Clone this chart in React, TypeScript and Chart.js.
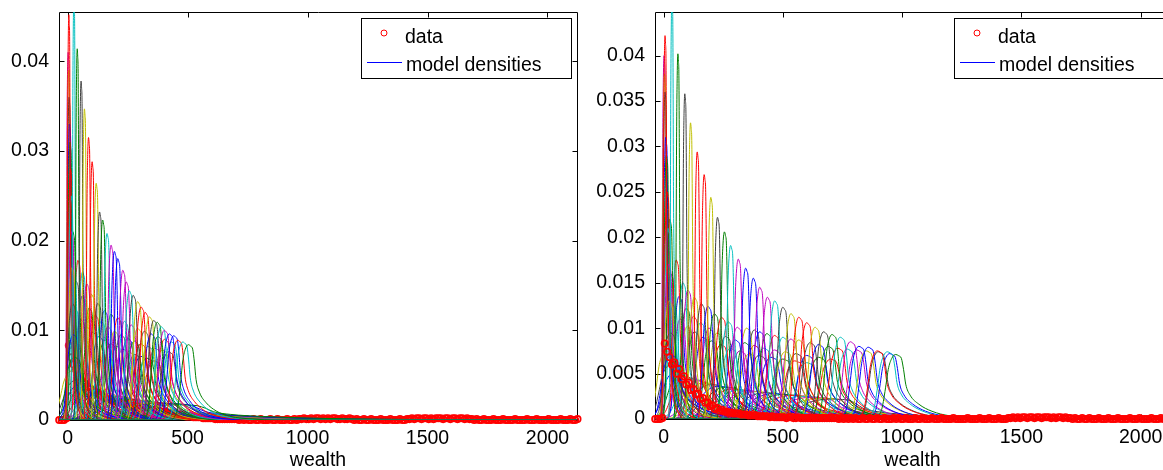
import React, { useEffect, useRef } from "react";
import { Chart, registerables } from "chart.js";

Chart.register(...registerables);
Chart.defaults.font.family = '"Liberation Sans", Arial, sans-serif';

// ---------- axes ----------
const X_MIN = -36;
const X_MAX = 2123;
const X_TICKS = [0, 500, 1000, 1500, 2000];
const Y_MAX_LEFT = 0.0455;
const Y_MAX_RIGHT = 0.0448;
const Y_TICKS_LEFT = [0, 0.01, 0.02, 0.03, 0.04];
const Y_TICKS_RIGHT = [0, 0.005, 0.01, 0.015, 0.02, 0.025, 0.03, 0.035, 0.04];
const AXIS_TITLE = "wealth";
const LEGEND_LABELS = ["data", "model densities"];

// ---------- shape of one model density, offsets in widths ----------
const PROFILE_T = [-2.6, -2.1, -1.6, -1.35, -1.1, -0.85, -0.45, 0, 0.35, 0.65, 0.9, 1.15, 1.65, 2.65, 4.15, 6.15, 9.6, 13];
const PROFILE_V = [0, 0.035, 0.15, 0.32, 0.54, 0.77, 0.94, 1, 0.98, 0.94, 0.77, 0.54, 0.37, 0.23, 0.12, 0.05, 0.013, 0];
const WIDTH_K_LEFT = 0.235;
const WIDTH_K_RIGHT = 0.26;

// ---------- left panel: peak positions and heights ----------
const L_A_X = [5, 26, 40, 56, 70, 87, 102, 119, 133, 146, 164, 181, 195, 209, 230, 244, 257, 273, 292, 306, 323, 341, 359, 373, 390, 403, 424, 442, 459, 480, 503];
const L_A_H = [0.0452, 0.047, 0.0414, 0.0378, 0.0347, 0.0315, 0.0288, 0.0264, 0.0232, 0.0223, 0.0208, 0.0195, 0.0188, 0.018, 0.0167, 0.0154, 0.0144, 0.0139, 0.0132, 0.0126, 0.012, 0.0115, 0.0111, 0.0109, 0.0104, 0.01, 0.0096, 0.0094, 0.0089, 0.0087, 0.0084];
const L_Z_X = [2, 4, 6, 8, 10, 12, 14, 16, 18, 20, 24, 28];
const L_Z_H = [0.041, 0.039, 0.036, 0.033, 0.031, 0.028, 0.025, 0.021, 0.017, 0.013, 0.0095, 0.007];
const L_B_X = [22, 43, 62, 80, 100, 126, 153, 181, 209, 237, 265, 292, 320, 348, 376, 404, 432];
const L_B_H = [0.021, 0.0178, 0.0165, 0.0152, 0.014, 0.013, 0.0122, 0.0118, 0.0114, 0.011, 0.0106, 0.0102, 0.0099, 0.0096, 0.0093, 0.009, 0.0087];
const L_E_X = [35, 60, 90, 115, 140, 168, 195, 222, 250, 278, 305, 335, 365, 395, 420];
const L_E_H = [0.0155, 0.0138, 0.0125, 0.0117, 0.011, 0.0104, 0.0099, 0.0095, 0.0091, 0.0088, 0.0085, 0.0082, 0.008, 0.0078, 0.0076];
const L_C_X = [30, 55, 80, 105, 130, 155, 180, 205, 230, 255, 280, 305, 330, 360];
const L_C_H = [0.0125, 0.0112, 0.0104, 0.0098, 0.0093, 0.0089, 0.0085, 0.0082, 0.0079, 0.0076, 0.0073, 0.0071, 0.0069, 0.0066];
const L_D_X = [20, 40, 60, 77, 100, 120, 145, 170, 195, 220, 245, 270, 300, 330, 360, 390, 420, 450];
const L_D_H = [0.0055, 0.0045, 0.0041, 0.0038, 0.0035, 0.0033, 0.003, 0.0028, 0.0026, 0.0024, 0.0023, 0.0022, 0.0021, 0.002, 0.0019, 0.0019, 0.0018, 0.0017];

// ---------- right panel: peak positions and heights ----------
const R_A_X = [6, 35, 60, 89, 113, 141, 170, 198, 226, 255, 281, 313, 344, 376, 403, 435, 466, 500, 534, 567, 600, 635, 671, 706, 741, 783, 819, 858, 896, 938, 973];
const R_A_H = [0.0422, 0.0465, 0.0402, 0.0358, 0.0326, 0.0294, 0.0269, 0.0244, 0.0222, 0.0206, 0.0191, 0.0176, 0.0166, 0.0155, 0.0145, 0.0134, 0.013, 0.0123, 0.0116, 0.0112, 0.0106, 0.0101, 0.0096, 0.0093, 0.009, 0.0085, 0.008, 0.0079, 0.0075, 0.0074, 0.0071];
const R_Z_X = [2, 4, 6, 9, 12, 15, 18, 21, 24, 28, 32];
const R_Z_H = [0.04, 0.038, 0.036, 0.031, 0.029, 0.025, 0.021, 0.017, 0.013, 0.0095, 0.007];
const R_B_X = [26, 53, 81, 102, 129, 158, 186, 213, 243, 271, 309, 348, 380, 403, 433, 465, 500, 533, 566, 614, 650, 690, 730, 770, 810, 850, 900, 948];
const R_B_H = [0.022, 0.0175, 0.015, 0.0142, 0.0134, 0.0127, 0.0124, 0.0116, 0.0112, 0.0107, 0.0101, 0.01, 0.0098, 0.0096, 0.0094, 0.0092, 0.009, 0.0088, 0.0087, 0.0084, 0.0082, 0.008, 0.0078, 0.0077, 0.0076, 0.0075, 0.0074, 0.0072];
const R_E_X = [30, 65, 95, 125, 155, 190, 225, 260, 300, 340, 380, 420, 465, 510, 555, 600, 650, 700];
const R_E_H = [0.016, 0.0135, 0.0122, 0.0113, 0.0106, 0.01, 0.0095, 0.0091, 0.0087, 0.0084, 0.0081, 0.0078, 0.0076, 0.0074, 0.0072, 0.007, 0.0068, 0.0066];
const R_C_X = [40, 70, 100, 130, 165, 200, 240, 280, 320, 360, 400, 450, 500, 550, 600];
const R_C_H = [0.0125, 0.011, 0.0102, 0.0096, 0.009, 0.0086, 0.0082, 0.0078, 0.0075, 0.0072, 0.007, 0.0068, 0.0066, 0.0064, 0.0062];
const R_D_X = [10, 30, 50, 75, 95, 120, 145, 170, 200, 230, 260, 290, 320, 355, 390, 425, 460, 500, 540, 580, 620, 660, 700];
const R_D_H = [0.0075, 0.006, 0.0052, 0.0048, 0.0046, 0.0044, 0.0042, 0.004, 0.0038, 0.0036, 0.0035, 0.0033, 0.0032, 0.0031, 0.003, 0.0029, 0.0028, 0.0027, 0.0026, 0.0025, 0.0024, 0.0023, 0.0022];

// ---------- colours ----------
const MATLAB: Record<string, string> = {
  b: "#0000ff", g: "#008000", r: "#ff0000", c: "#00bfbf", m: "#bf00bf", y: "#bfbf00", k: "#404040",
};
const COLORS_A = ["r", "c", "g", "k", "y", "r", "r", "y", "k", "g", "c", "m", "b", "b", "m", "m", "c", "k", "y", "r", "r", "y", "k", "g", "c", "m", "b", "b", "r", "c", "g"];
const COLOR_CYCLE = ["b", "g", "r", "c", "m", "y", "k"];

// ---------- empirical data (red circles), wealth bins ----------
const DATA_X = [
  -35, -25, -15, -5, 5, 15, 25, 35, 45, 55,
  65, 75, 85, 95, 105, 115, 125, 135, 145, 155,
  165, 175, 185, 195, 205, 215, 225, 235, 245, 255,
  265, 275, 285, 295, 305, 315, 325, 335, 345, 355,
  365, 375, 385, 395, 405, 415, 425, 435, 445, 455,
  465, 475, 485, 495, 505, 515, 525, 535, 545, 555,
  565, 575, 585, 595, 605, 615, 625, 635, 645, 655,
  665, 675, 685, 695, 705, 715, 725, 735, 745, 755,
  765, 775, 785, 795, 805, 815, 825, 835, 845, 855,
  865, 875, 885, 895, 905, 915, 925, 935, 945, 955,
  965, 975, 985, 995, 1005, 1015, 1025, 1035, 1045, 1055,
  1065, 1075, 1085, 1095, 1105, 1115, 1125, 1135, 1145, 1155,
  1165, 1175, 1185, 1195, 1205, 1215, 1225, 1235, 1245, 1255,
  1265, 1275, 1285, 1295, 1305, 1315, 1325, 1335, 1345, 1355,
  1365, 1375, 1385, 1395, 1405, 1415, 1425, 1435, 1445, 1455,
  1465, 1475, 1485, 1495, 1505, 1515, 1525, 1535, 1545, 1555,
  1565, 1575, 1585, 1595, 1605, 1615, 1625, 1635, 1645, 1655,
  1665, 1675, 1685, 1695, 1705, 1715, 1725, 1735, 1745, 1755,
  1765, 1775, 1785, 1795, 1805, 1815, 1825, 1835, 1845, 1855,
  1865, 1875, 1885, 1895, 1905, 1915, 1925, 1935, 1945, 1955,
  1965, 1975, 1985, 1995, 2005, 2015, 2025, 2035, 2045, 2055,
  2065, 2075, 2085, 2095, 2105, 2115, 2125,
];
const DATA_Y_LEFT = [
  0, 0, 0, 0.0002, 0.0083, 0.007, 0.0062, 0.0056, 0.005, 0.0046,
  0.0042, 0.004, 0.0037, 0.0035, 0.0033, 0.0031, 0.0029, 0.0028, 0.0027, 0.0025,
  0.0024, 0.0023, 0.0022, 0.0021, 0.002, 0.002, 0.0019, 0.0018, 0.0018, 0.0017,
  0.0016, 0.0016, 0.0015, 0.0015, 0.0014, 0.0014, 0.0013, 0.0013, 0.0012, 0.0011,
  0.0011, 0.001, 0.001, 0.0009, 0.0009, 0.0008, 0.0008, 0.0007, 0.0007, 0.0006,
  0.0006, 0.0005, 0.0005, 0.0004, 0.0004, 0.0004, 0.0003, 0.0003, 0.0003, 0.0003,
  0.0002, 0.0002, 0.0002, 0.0002, 0.0002, 0.0001, 0.0001, 0.0001, 0.0001, 0.0001,
  0.0001, 0.0001, 0.0001, 0.0001, 0.0001, 0, 0.0001, 0, 0.0001, 0,
  0, 0.0001, 0, 0, 0.0001, 0, 0, 0, 0.0001, 0,
  0, 0.0001, 0, 0, 0, 0.0001, 0, 0, 0.0001, 0,
  0.0001, 0.0001, 0.0002, 0.0001, 0.0001, 0.0002, 0.0001, 0.0002, 0.0002, 0.0001,
  0.0002, 0.0001, 0.0002, 0.0001, 0.0002, 0.0002, 0.0001, 0.0001, 0.0002, 0.0001,
  0.0001, 0.0002, 0.0001, 0, 0.0001, 0, 0, 0.0001, 0, 0,
  0.0001, 0, 0, 0, 0.0001, 0, 0, 0, 0.0001, 0,
  0, 0, 0.0001, 0, 0, 0.0001, 0.0001, 0.0002, 0.0001, 0.0002,
  0.0002, 0.0001, 0.0002, 0.0002, 0.0001, 0.0002, 0.0001, 0.0002, 0.0002, 0.0002,
  0.0001, 0.0002, 0.0002, 0.0001, 0.0002, 0.0002, 0.0001, 0.0002, 0.0002, 0.0001,
  0.0002, 0.0001, 0.0001, 0, 0.0001, 0, 0, 0.0001, 0, 0,
  0, 0.0001, 0, 0, 0, 0.0001, 0, 0, 0, 0,
  0.0001, 0, 0, 0, 0, 0.0001, 0, 0, 0, 0.0001,
  0, 0, 0, 0, 0.0001, 0, 0, 0, 0, 0.0001,
  0, 0, 0, 0.0001, 0, 0, 0.0001,
];
const DATA_Y_RIGHT = [
  0, 0, 0, 0.0001, 0.0083, 0.0074, 0.0068, 0.006, 0.0062, 0.005,
  0.0055, 0.0044, 0.0047, 0.0038, 0.004, 0.0032, 0.0033, 0.0027, 0.0028, 0.0022,
  0.0023, 0.0018, 0.0018, 0.0014, 0.0015, 0.0011, 0.0012, 0.0009, 0.001, 0.0008,
  0.0008, 0.0007, 0.0007, 0.0006, 0.0006, 0.0006, 0.0005, 0.0005, 0.0005, 0.0004,
  0.0004, 0.0004, 0.0004, 0.0003, 0.0003, 0.0003, 0.0003, 0.0003, 0.0002, 0.0003,
  0.0002, 0.0002, 0.0002, 0.0002, 0.0002, 0.0001, 0.0002, 0.0002, 0.0001, 0.0001,
  0.0002, 0.0001, 0.0001, 0.0001, 0.0001, 0.0001, 0.0001, 0.0001, 0.0001, 0.0001,
  0.0001, 0.0001, 0.0001, 0.0001, 0.0001, 0.0001, 0.0001, 0, 0.0001, 0,
  0.0001, 0, 0.0001, 0, 0.0001, 0, 0, 0.0001, 0, 0,
  0.0001, 0, 0, 0.0001, 0, 0, 0.0001, 0, 0, 0,
  0.0001, 0, 0.0001, 0, 0, 0.0001, 0, 0, 0, 0.0001,
  0, 0, 0.0001, 0, 0, 0, 0.0001, 0, 0, 0,
  0.0001, 0, 0, 0, 0, 0.0001, 0, 0, 0, 0,
  0, 0.0001, 0, 0, 0, 0, 0.0001, 0, 0, 0,
  0.0001, 0, 0, 0, 0.0001, 0, 0, 0, 0.0001, 0.0001,
  0.0002, 0.0001, 0.0002, 0.0001, 0.0002, 0.0002, 0.0001, 0.0002, 0.0002, 0.0001,
  0.0002, 0.0002, 0.0001, 0.0002, 0.0002, 0.0002, 0.0001, 0.0002, 0.0001, 0.0002,
  0.0002, 0.0001, 0.0002, 0.0001, 0.0001, 0, 0.0001, 0, 0, 0.0001,
  0, 0, 0.0001, 0, 0, 0, 0.0001, 0, 0, 0,
  0.0001, 0, 0, 0, 0.0001, 0, 0, 0, 0, 0.0001,
  0, 0, 0, 0.0001, 0, 0, 0, 0, 0.0001, 0,
  0, 0, 0.0001, 0, 0, 0, 0.0001,
];

// ---------- building ----------
type Family = { xs: number[]; hs: number[]; colors?: string[]; offset: number };

function curvePoints(px: number, ph: number, k: number) {
  const w = k / ph;
  const pts: { x: number; y: number }[] = [];
  if (px + PROFILE_T[0] * w > X_MIN) pts.push({ x: X_MIN, y: 0 });
  for (let j = 0; j < PROFILE_T.length; j++) {
    pts.push({ x: px + PROFILE_T[j] * w, y: ph * PROFILE_V[j] });
  }
  pts.push({ x: X_MAX, y: 0 });
  return pts;
}

function buildDatasets(families: Family[], k: number, dataY: number[], dataOnTop: boolean) {
  const ds: any[] = [];
  let idx = 0;
  families.forEach((f) => {
    f.xs.forEach((px, i) => {
      const letter = f.colors ? f.colors[i % f.colors.length] : COLOR_CYCLE[(i + f.offset) % COLOR_CYCLE.length];
      ds.push({
        data: curvePoints(px, f.hs[i], k),
        showLine: true,
        borderColor: MATLAB[letter],
        borderWidth: 1,
        pointRadius: 0,
        cubicInterpolationMode: "monotone",
        order: -idx,
      });
      idx++;
    });
  });
  const n = Math.min(DATA_X.length, dataY.length);
  const pts = [];
  for (let i = 0; i < n; i++) pts.push({ x: DATA_X[i], y: dataY[i] });
  ds.push({
    data: pts,
    showLine: false,
    pointRadius: 3.2,
    pointBorderWidth: 1.7,
    pointBorderColor: "#ff0000",
    pointBackgroundColor: "rgba(0,0,0,0)",
    clip: false,
    order: dataOnTop ? -100000 : 1,
  });
  return ds;
}

const framePlugin = {
  id: "matlabFrame",
  beforeDatasetsDraw(chart: any) {
    const { ctx, chartArea: a, scales } = chart;
    const L = Math.round(a.left) + 0.5;
    const R = Math.round(a.right) + 0.5;
    const T = Math.round(a.top) + 0.5;
    const B = Math.round(a.bottom) + 0.5;
    ctx.save();
    ctx.strokeStyle = "#000";
    ctx.lineWidth = 1;
    ctx.beginPath();
    ctx.rect(L, T, R - L, B - T);
    const len = 5;
    scales.x.ticks.forEach((t: any) => {
      const p = Math.round(scales.x.getPixelForValue(t.value)) + 0.5;
      ctx.moveTo(p, B); ctx.lineTo(p, B - len);
      ctx.moveTo(p, T); ctx.lineTo(p, T + len);
    });
    scales.y.ticks.forEach((t: any) => {
      const p = Math.round(scales.y.getPixelForValue(t.value)) + 0.5;
      ctx.moveTo(L, p); ctx.lineTo(L + len, p);
      ctx.moveTo(R, p); ctx.lineTo(R - len, p);
    });
    ctx.stroke();
    ctx.restore();
  },
};

const legendPlugin = {
  id: "matlabLegend",
  afterDraw(chart: any) {
    const { ctx, chartArea: a } = chart;
    const w = 210, h = 60;
    const x = Math.round(a.right - 6 - w);
    const y = Math.round(a.top + 6);
    ctx.save();
    ctx.fillStyle = "#fff";
    ctx.fillRect(x, y, w, h);
    ctx.strokeStyle = "#000";
    ctx.lineWidth = 1;
    ctx.strokeRect(x + 0.5, y + 0.5, w, h);
    ctx.beginPath();
    ctx.arc(x + 23, y + 15, 3, 0, Math.PI * 2);
    ctx.strokeStyle = "#ff0000";
    ctx.stroke();
    ctx.beginPath();
    ctx.moveTo(x + 6, y + 44.5);
    ctx.lineTo(x + 41, y + 44.5);
    ctx.strokeStyle = "#0000ff";
    ctx.stroke();
    ctx.fillStyle = "#000";
    ctx.font = '19.5px "Liberation Sans", Arial, sans-serif';
    ctx.textBaseline = "alphabetic";
    ctx.fillText(LEGEND_LABELS[0], x + 44, y + 24.5);
    ctx.fillText(LEGEND_LABELS[1], x + 45, y + 53);
    ctx.restore();
  },
};

type PanelCfg = {
  left: number;
  yMax: number;
  yTicks: number[];
  yAxisW: number;
  xAxisH: number;
  padRight: number;
  k: number;
  families: Family[];
  dataY: number[];
  dataOnTop: boolean;
};

const PANELS: PanelCfg[] = [
  {
    left: 0, yMax: Y_MAX_LEFT, yTicks: Y_TICKS_LEFT, yAxisW: 59, xAxisH: 50, padRight: 13, k: WIDTH_K_LEFT,
    families: [
      { xs: L_D_X, hs: L_D_H, offset: 5 },
      { xs: L_C_X, hs: L_C_H, offset: 3 },
      { xs: L_E_X, hs: L_E_H, offset: 6 },
      { xs: L_B_X, hs: L_B_H, offset: 1 },
      { xs: L_Z_X, hs: L_Z_H, offset: 4 },
      { xs: L_A_X, hs: L_A_H, colors: COLORS_A, offset: 0 },
    ],
    dataY: DATA_Y_LEFT,
    dataOnTop: false,
  },
  {
    left: 590, yMax: Y_MAX_RIGHT, yTicks: Y_TICKS_RIGHT, yAxisW: 65, xAxisH: 51, padRight: 10, k: WIDTH_K_RIGHT,
    families: [
      { xs: R_D_X, hs: R_D_H, offset: 5 },
      { xs: R_C_X, hs: R_C_H, offset: 3 },
      { xs: R_E_X, hs: R_E_H, offset: 6 },
      { xs: R_B_X, hs: R_B_H, offset: 1 },
      { xs: R_Z_X, hs: R_Z_H, offset: 4 },
      { xs: R_A_X, hs: R_A_H, colors: COLORS_A, offset: 0 },
    ],
    dataY: DATA_Y_RIGHT,
    dataOnTop: true,
  },
];

function Panel({ cfg }: { cfg: PanelCfg }) {
  const ref = useRef<HTMLCanvasElement>(null);
  useEffect(() => {
    if (!ref.current) return;
    const chart = new Chart(ref.current, {
      type: "scatter",
      data: { datasets: buildDatasets(cfg.families, cfg.k, cfg.dataY, cfg.dataOnTop) },
      options: {
        animation: false,
        responsive: false,
        maintainAspectRatio: false,
        events: [],
        layout: { padding: { top: 12, right: cfg.padRight, left: 0, bottom: 0 } },
        plugins: { legend: { display: false }, tooltip: { enabled: false } },
        scales: {
          x: {
            type: "linear",
            min: X_MIN,
            max: X_MAX,
            grid: { display: false, drawTicks: false },
            border: { display: false },
            ticks: { color: "#000", font: { size: 19.5 }, padding: 7, autoSkip: false, maxRotation: 0, callback: (v: any) => String(v) },
            afterBuildTicks: (s: any) => { s.ticks = X_TICKS.map((v) => ({ value: v })); },
            afterFit: (s: any) => { s.height = cfg.xAxisH; s.paddingLeft = 0; s.paddingRight = 0; },
            title: { display: true, text: AXIS_TITLE, color: "#000", font: { size: 19.5, lineHeight: 1 }, padding: { top: 0, bottom: 0 } },
          },
          y: {
            type: "linear",
            min: 0,
            max: cfg.yMax,
            grid: { display: false, drawTicks: false },
            border: { display: false },
            ticks: { color: "#000", font: { size: 19.5 }, padding: 10, autoSkip: false, callback: (v: any) => String(Number(Number(v).toFixed(4))) },
            afterBuildTicks: (s: any) => { s.ticks = cfg.yTicks.map((v) => ({ value: v })); },
            afterFit: (s: any) => { s.width = cfg.yAxisW; s.paddingTop = 0; s.paddingBottom = 0; },
          },
        },
      } as any,
      plugins: [framePlugin, legendPlugin],
    });
    return () => chart.destroy();
  }, [cfg]);
  return (
    <canvas
      ref={ref}
      width={590}
      height={470}
      style={{ position: "absolute", left: cfg.left, top: 0, width: 590, height: 470 }}
    />
  );
}

export default function App() {
  return (
    <div style={{ position: "fixed", left: 0, top: 0, width: 1163, height: 470, overflow: "hidden", background: "#fff" }}>
      {PANELS.map((p, i) => (
        <Panel key={i} cfg={p} />
      ))}
    </div>
  );
}
